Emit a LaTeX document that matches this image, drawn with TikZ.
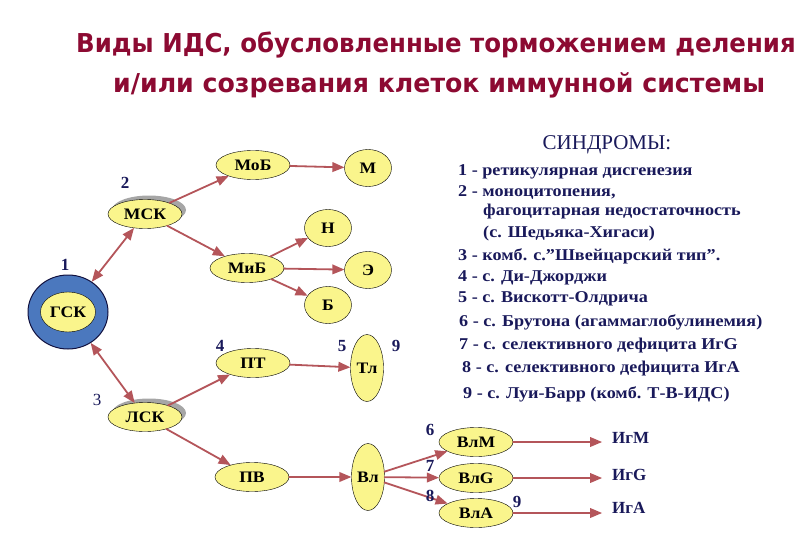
\documentclass[tikz,border=0pt]{standalone}
\usepackage{fontspec}
\setmainfont{Liberation Serif}
\newfontfamily\titlefont[FakeStretch=0.94]{DejaVu Sans}
\newfontfamily\titlefontb[FakeStretch=0.97]{DejaVu Sans}
\newfontfamily\synfont[FakeStretch=1.1]{Liberation Serif}
\usetikzlibrary{arrows,shapes.geometric,shadows}
\definecolor{cellfill}{RGB}{250,245,140}
\definecolor{ringblue}{RGB}{75,120,190}
\definecolor{linkred}{RGB}{180,85,90}
\definecolor{navy}{RGB}{25,25,90}
\definecolor{titlered}{RGB}{140,10,50}
\tikzset{
  cell/.style={ellipse,draw=black,fill=cellfill,inner sep=0pt,minimum width=74pt,minimum height=29pt,
    font=\synfont\fontsize{16}{16}\selectfont\bfseries},
  small/.style={cell,minimum width=47pt,minimum height=37pt},
  tall/.style={cell,minimum width=33pt,minimum height=67pt},
  shade/.style={drop shadow={shadow xshift=4pt,shadow yshift=4pt,fill=gray!70,opacity=1}},
  num/.style={font=\fontsize{17}{17}\selectfont\bfseries,text=navy,inner sep=0pt},
  syn/.style={anchor=west,font=\synfont\fontsize{16.5}{16.5}\selectfont\bfseries,text=navy,inner sep=0pt},
  link/.style={draw=linkred,line width=1.8pt,->},
}
\begin{document}
\begin{tikzpicture}[line cap=round,line join=round,>=triangle 45,x=1pt,y=-1pt]
\useasboundingbox (0,0) rectangle (810,540);
\clip (0,0) rectangle (810,540);
% title
\node[anchor=base west,inner sep=0pt,text=titlered,font=\titlefont\fontsize{26}{26}\selectfont\bfseries] (title1) at (76,53) {Виды ИДС, обусловленные торможением деления};
\node[anchor=base west,inner sep=0pt,text=titlered,font=\titlefontb\fontsize{26}{26}\selectfont\bfseries] (title2) at (113,93) {и/или созревания клеток иммунной системы};
% stem cells
\node[ellipse,draw=navy!70!black,fill=ringblue,line width=1pt,minimum width=80pt,minimum height=74pt] (ring) at (68,312) {};
\node[cell,minimum width=55pt,minimum height=40pt] (gsk) at (68,312) {ГСК};
\node[cell,shade] (msk) at (145,214) {МСК};
\node[cell,shade] (lsk) at (145,417) {ЛСК};
% myeloid line
\node[cell] (mob) at (253,165) {МоБ};
\node[small] (m) at (368,168) {М};
\node[cell] (mib) at (247,268) {МиБ};
\node[small] (n) at (328,228) {Н};
\node[small] (e) at (368,270) {Э};
\node[small] (b) at (328,305) {Б};
% lymphoid line
\node[cell] (pt) at (253,363) {ПТ};
\node[tall] (tl) at (367,368) {Тл};
\node[cell] (pv) at (252,477) {ПВ};
\node[tall] (vl) at (368,477) {Вл};
\node[cell] (vlm) at (476,442) {ВлМ};
\node[cell] (vlg) at (476,478) {ВлG};
\node[cell] (vla) at (476,513) {ВлА};
\node[num,anchor=west] (igm) at (612,438) {ИгМ};
\node[num,anchor=west] (igg) at (612,475) {ИгG};
\node[num,anchor=west] (iga) at (612,508) {ИгА};
% links
\draw[link,<->] (ring) -- (msk);
\draw[link,<->] (ring) -- (lsk);
\draw[link] (msk) -- (mob);
\draw[link] (msk) -- (mib);
\draw[link] (mob) -- (m);
\draw[link] (mib) -- (n);
\draw[link] (mib) -- (e);
\draw[link] (mib) -- (b);
\draw[link] (lsk) -- (pt);
\draw[link] (lsk) -- (pv);
\draw[link] (pt) -- (tl);
\draw[link] (pv) -- (vl);
\draw[link] (vl) -- (vlm);
\draw[link] (vl) -- (vlg);
\draw[link] (vl) -- (vla);
\draw[link,shorten >=10pt] (vlm) -- (vlm -| igm.west);
\draw[link,shorten >=10pt] (vlg) -- (vlg -| igg.west);
\draw[link,shorten >=10pt] (vla) -- (vla -| iga.west);
% numbers
\node[num] (n1) at (65,265) {1};
\node[num] (n2) at (125,183) {2};
\node[num,font=\fontsize{17}{17}\selectfont] (n3) at (97,400) {3};
\node[num] (n4) at (220,346) {4};
\node[num] (n5) at (342,346) {5};
\node[num] (n9) at (396,346) {9};
\node[num] (n6) at (430,430) {6};
\node[num] (n7) at (430,466) {7};
\node[num] (n8) at (430,496) {8};
\node[num] (n9b) at (517,502) {9};
% syndromes
\node[text=navy,font=\fontsize{21}{21}\selectfont] (head) at (607,145) {СИНДРОМЫ:};
\node[syn] (s1) at (458,172) {1 - ретикулярная дисгенезия};
\node[syn] (s2) at (458,192) {2 - моноцитопения,};
\node[syn] (s2a) at (483,212) {фагоцитарная недостаточность};
\node[syn] (s2b) at (483,234) {(с. Шедьяка-Хигаси)};
\node[syn] (s3) at (458,256) {3 - комб. с.”Швейцарский тип”.};
\node[syn] (s4) at (458,278) {4 - с. Ди-Джорджи};
\node[syn] (s5) at (458,299) {5 - с. Вискотт-Олдрича};
\node[syn] (s6) at (459,322) {6 - с. Брутона (агаммаглобулинемия)};
\node[syn] (s7) at (459,346) {7 - с. селективного дефицита ИгG};
\node[syn] (s8) at (462,369) {8 - с. селективного дефицита ИгА};
\node[syn] (s9) at (463,394) {9 - с. Луи-Барр (комб. Т-В-ИДС)};
\end{tikzpicture}
\end{document}
